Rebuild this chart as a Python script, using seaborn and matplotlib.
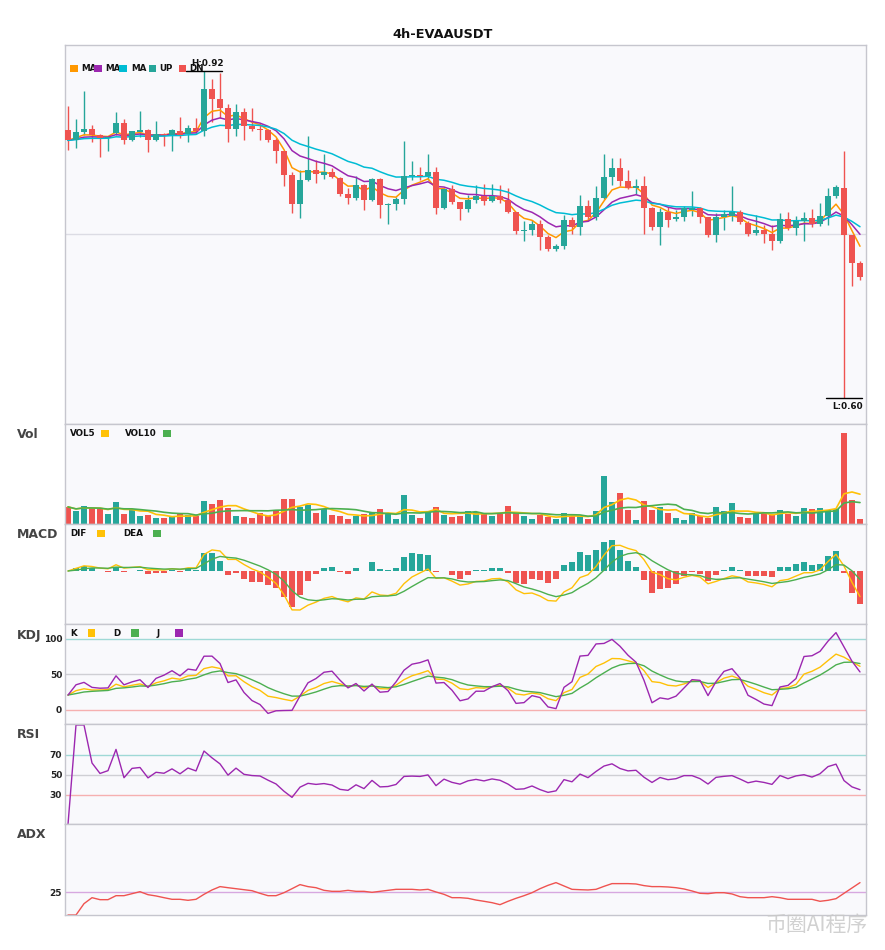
import numpy as np
import pandas as pd
import matplotlib
matplotlib.use("Agg")
import matplotlib.pyplot as plt
import seaborn as sns
from matplotlib.patches import Rectangle

# ---------------- data ----------------
title = "4h-EVAAUSDT"
start_time = "2024-08-06 00:00"

open_ = [0.862, 0.852, 0.860, 0.863, 0.857, 0.854, 0.859, 0.869, 0.852, 0.860,
         0.862, 0.852, 0.858, 0.857, 0.861, 0.858, 0.864, 0.861, 0.902, 0.893,
         0.884, 0.863, 0.880, 0.866, 0.863, 0.862, 0.852, 0.842, 0.818, 0.790,
         0.813, 0.823, 0.818, 0.821, 0.815, 0.800, 0.796, 0.808, 0.794, 0.814,
         0.789, 0.790, 0.795, 0.817, 0.818, 0.817, 0.821, 0.786, 0.804, 0.792,
         0.785, 0.794, 0.798, 0.793, 0.798, 0.794, 0.782, 0.763, 0.764, 0.770,
         0.757, 0.746, 0.749, 0.774, 0.767, 0.788, 0.777, 0.796, 0.816, 0.825,
         0.812, 0.805, 0.807, 0.786, 0.767, 0.782, 0.775, 0.777, 0.784, 0.786,
         0.777, 0.759, 0.777, 0.778, 0.782, 0.771, 0.761, 0.764, 0.760, 0.754,
         0.775, 0.766, 0.773, 0.776, 0.770, 0.778, 0.798, 0.805, 0.759, 0.732]
high = [0.886, 0.873, 0.900, 0.867, 0.858, 0.856, 0.880, 0.873, 0.861, 0.881,
        0.863, 0.871, 0.859, 0.863, 0.875, 0.867, 0.874, 0.920, 0.912, 0.918,
        0.888, 0.888, 0.884, 0.884, 0.869, 0.863, 0.854, 0.842, 0.821, 0.823,
        0.856, 0.833, 0.839, 0.825, 0.816, 0.805, 0.817, 0.809, 0.815, 0.815,
        0.791, 0.797, 0.851, 0.832, 0.826, 0.839, 0.826, 0.805, 0.808, 0.792,
        0.799, 0.808, 0.809, 0.809, 0.808, 0.805, 0.782, 0.773, 0.774, 0.774,
        0.759, 0.751, 0.779, 0.777, 0.799, 0.794, 0.807, 0.839, 0.835, 0.835,
        0.823, 0.814, 0.817, 0.787, 0.786, 0.787, 0.784, 0.788, 0.802, 0.787,
        0.777, 0.781, 0.784, 0.807, 0.784, 0.773, 0.779, 0.769, 0.769, 0.781,
        0.782, 0.778, 0.782, 0.785, 0.791, 0.805, 0.808, 0.842, 0.759, 0.734]
low = [0.843, 0.845, 0.857, 0.850, 0.836, 0.842, 0.857, 0.848, 0.851, 0.855,
       0.841, 0.851, 0.847, 0.842, 0.854, 0.850, 0.858, 0.856, 0.870, 0.874,
       0.850, 0.856, 0.852, 0.861, 0.852, 0.850, 0.830, 0.807, 0.781, 0.776,
       0.812, 0.810, 0.814, 0.815, 0.798, 0.790, 0.794, 0.784, 0.793, 0.776,
       0.770, 0.784, 0.790, 0.813, 0.813, 0.813, 0.780, 0.785, 0.790, 0.774,
       0.782, 0.791, 0.789, 0.792, 0.791, 0.781, 0.760, 0.754, 0.759, 0.745,
       0.744, 0.744, 0.746, 0.760, 0.759, 0.773, 0.774, 0.795, 0.808, 0.807,
       0.804, 0.800, 0.760, 0.764, 0.750, 0.767, 0.773, 0.773, 0.778, 0.771,
       0.757, 0.753, 0.764, 0.773, 0.770, 0.758, 0.759, 0.752, 0.745, 0.752,
       0.764, 0.759, 0.754, 0.767, 0.768, 0.769, 0.796, 0.600, 0.709, 0.715]
close = [0.852, 0.860, 0.863, 0.857, 0.854, 0.855, 0.869, 0.852, 0.861, 0.862,
         0.852, 0.858, 0.857, 0.862, 0.857, 0.864, 0.861, 0.902, 0.893, 0.884,
         0.863, 0.880, 0.866, 0.863, 0.862, 0.852, 0.842, 0.818, 0.790, 0.813,
         0.823, 0.819, 0.821, 0.816, 0.800, 0.796, 0.808, 0.794, 0.814, 0.789,
         0.790, 0.795, 0.817, 0.818, 0.817, 0.821, 0.786, 0.804, 0.792, 0.785,
         0.794, 0.798, 0.793, 0.798, 0.794, 0.782, 0.763, 0.764, 0.770, 0.757,
         0.746, 0.749, 0.774, 0.767, 0.788, 0.777, 0.796, 0.816, 0.825, 0.812,
         0.805, 0.807, 0.786, 0.767, 0.782, 0.774, 0.777, 0.786, 0.786, 0.777,
         0.759, 0.777, 0.780, 0.782, 0.772, 0.760, 0.764, 0.760, 0.754, 0.775,
         0.766, 0.773, 0.776, 0.770, 0.778, 0.798, 0.806, 0.759, 0.732, 0.718]
volume = [173, 133, 183, 160, 153, 103, 223, 103, 150, 83,
          93, 63, 63, 77, 110, 93, 83, 233, 203, 243,
          163, 83, 73, 63, 110, 83, 143, 253, 253, 173,
          193, 113, 150, 93, 83, 53, 83, 103, 113, 153,
          113, 53, 293, 93, 63, 123, 173, 93, 73, 83,
          133, 123, 113, 83, 103, 183, 113, 83, 53, 93,
          73, 53, 113, 83, 83, 53, 133, 483, 223, 313,
          143, 43, 233, 143, 173, 113, 63, 43, 113, 83,
          63, 173, 133, 213, 73, 63, 113, 113, 103, 143,
          103, 83, 163, 153, 163, 143, 153, 903, 243, 53]
adx = [0, 0, 12.5, 19.1, 16.9, 16.9, 21.3, 21.3, 23.5, 25.7,
       22.4, 21, 19.1, 17.3, 17.3, 16.2, 17.3, 22.8, 27.6, 31.3,
       30.1, 29, 27.9, 26.8, 23.9, 21.3, 21.3, 24.6, 29, 33.5,
       31.3, 30.1, 27.2, 26.1, 26.1, 27.2, 26.1, 26.1, 25, 26.1,
       27.2, 28.3, 28.3, 28.3, 27.6, 28.3, 25.4, 22.8, 19.1, 19.1,
       18.4, 16.5, 15.1, 13.6, 11.4, 15.1, 18.4, 21.3, 24.6, 29,
       32.7, 35.7, 32, 28.3, 27.9, 27.6, 28.3, 31.6, 34.6, 34.6,
       34.6, 34.2, 32.4, 31.3, 31.3, 30.9, 30.1, 28.7, 26.5, 23.9,
       23.5, 24.6, 24.6, 23.2, 20.2, 19.1, 19.1, 19.1, 20.2, 19.1,
       17.3, 17.3, 17.3, 17.3, 15.1, 16.2, 18, 23.9, 29.8, 35.7]
price_grid = [0.76]
kdj_levels = [100, 50, 0]
rsi_levels = [70, 50, 30]
adx_levels = [25]
macd_periods = (6, 13, 5)

# ---------------- styling ----------------
UP, DN = "#26A69A", "#EF5350"
MA_COLORS = ["#FF9800", "#9C27B0", "#00BCD4"]
GOLD, GREEN, PURPLE = "#FFC107", "#4CAF50", "#9C27B0"
BG = "#F9F9FC"
SPINE = "#C6C6CE"

sns.set_theme(style="white")
plt.rcParams["font.family"] = ["DejaVu Sans"]

df = pd.DataFrame({"open": open_, "high": high, "low": low, "close": close,
                   "volume": volume, "adx": adx})
df["time"] = pd.date_range(start_time, periods=len(df), freq="4h")
n = len(df)
x = np.arange(n)
c = df["close"]

# indicators derived from the read closes / volumes
for p in (5, 10, 20):
    df[f"ma{p}"] = c.ewm(span=p, adjust=False).mean()
df["vol5"] = df["volume"].rolling(5, min_periods=1).mean()
df["vol10"] = df["volume"].rolling(10, min_periods=1).mean()
fa, sl, sg = macd_periods
dif = c.ewm(span=fa, adjust=False).mean() - c.ewm(span=sl, adjust=False).mean()
dea = dif.ewm(span=sg, adjust=False).mean()
hist = dif - dea
lown = df["low"].rolling(9, min_periods=1).min()
highn = df["high"].rolling(9, min_periods=1).max()
rsv = (c - lown) / (highn - lown) * 100
K = rsv.ewm(com=2, adjust=False).mean()
D = K.ewm(com=2, adjust=False).mean()
J = 3 * K - 2 * D
delta = c.diff()
ag = delta.clip(lower=0).ewm(alpha=1 / 14, adjust=True).mean()
al = (-delta).clip(lower=0).ewm(alpha=1 / 14, adjust=True).mean()
rsi = (100 * ag / (ag + al)).fillna(0)

up = (df["close"] >= df["open"]).values
colors = np.where(up, UP, DN)

# ---------------- figure ----------------
W, H = 885, 950
fig = plt.figure(figsize=(W / 100, H / 100), dpi=100)
fig.patch.set_facecolor("white")


def rect(top, bottom):
    return [65 / W, 1 - bottom / H, (866 - 65) / W, (bottom - top) / H]


ax_main = fig.add_axes(rect(45, 424.3))
ax_vol = fig.add_axes(rect(424.3, 524.3), sharex=ax_main)
ax_macd = fig.add_axes(rect(524.3, 624.3), sharex=ax_main)
ax_kdj = fig.add_axes(rect(624.3, 724.3), sharex=ax_main)
ax_rsi = fig.add_axes(rect(724.3, 824.3), sharex=ax_main)
ax_adx = fig.add_axes(rect(824.3, 915), sharex=ax_main)
axes = [ax_main, ax_vol, ax_macd, ax_kdj, ax_rsi, ax_adx]

for ax in axes:
    ax.set_facecolor(BG)
    for s in ax.spines.values():
        s.set_color(SPINE)
        s.set_linewidth(1)
    ax.tick_params(axis="both", length=0)
    plt.setp(ax.get_xticklabels(), visible=False)


def line(ax, y, color, lw=1.0):
    sns.lineplot(x=x, y=np.asarray(y, dtype=float), ax=ax, color=color,
                 linewidth=lw, legend=False, estimator=None, sort=False)
    ax.set_xlabel("")
    ax.set_ylabel("")


# main candles
for g in price_grid:
    ax_main.axhline(g, color="#DCDCE4", lw=1, zorder=0)
ax_main.vlines(x, df["low"], df["high"], colors=colors, lw=1, zorder=2)
body_bottom = np.minimum(df["open"], df["close"])
body_h = np.maximum(np.abs(df["close"] - df["open"]), 0.0012)
ax_main.bar(x, body_h, bottom=body_bottom, width=0.74, color=colors,
            linewidth=0, zorder=3)
for p, col in zip((5, 10, 20), MA_COLORS):
    line(ax_main, df[f"ma{p}"], col, 1.1)
ax_main.set_ylim(0.5741, 0.9454)
ax_main.set_yticks([])

ih = int(np.argmax(df["high"].values))
il = int(np.argmin(df["low"].values))
hv, lv = df["high"].iloc[ih], df["low"].iloc[il]
ax_main.plot([ih - 2.2, ih + 2.2], [hv, hv], color="black", lw=1, zorder=5)
ax_main.text(ih + 0.5, hv + 0.0025, f"H:{hv:.2f}", ha="center", va="bottom",
             fontsize=6.3, fontweight="bold", color="#111", zorder=6)
ax_main.plot([il - 2.25, il + 2.25], [lv, lv], color="black", lw=1, zorder=5)
ax_main.text(il + 0.45, lv - 0.004, f"L:{lv:.2f}", ha="center", va="top",
             fontsize=6.3, fontweight="bold", color="#111", zorder=6)

# volume
ax_vol.bar(x, df["volume"], width=0.74, color=colors, linewidth=0, zorder=2)
line(ax_vol, df["vol5"], GOLD, 1.2)
line(ax_vol, df["vol10"], GREEN, 1.2)
ax_vol.set_ylim(0, 993)
ax_vol.set_yticks([])

# MACD: histogram on the panel axis, DIF/DEA on an overlaid twin with own scale
ZERO_FRAC = 0.467  # zero line position from the top of the panel
ax_macd.bar(x, hist, width=0.74, color=np.where(hist >= 0, UP, DN),
            linewidth=0, zorder=2)
rh = max(-hist.min() / 0.37, hist.max() / 0.31)
ax_macd.set_ylim(ZERO_FRAC * rh - rh, ZERO_FRAC * rh)
ax_macd.set_yticks([])
ax_ml = ax_macd.twinx()
ax_ml.patch.set_visible(False)
for s in ax_ml.spines.values():
    s.set_visible(False)
line(ax_ml, dif, GOLD, 1.0)
line(ax_ml, dea, GREEN, 1.0)
lmin = min(dif.min(), dea.min())
lmax = max(dif.max(), dea.max())
rl = max(-lmin / 0.39, lmax / 0.26)
ax_ml.set_ylim(ZERO_FRAC * rl - rl, ZERO_FRAC * rl)
ax_ml.set_yticks([])
ax_ml.tick_params(length=0)

# KDJ
for lvl, col in zip(kdj_levels, ["#9FD9D6", "#CFCFD4", "#F6B0B0"]):
    ax_kdj.axhline(lvl, color=col, lw=1, zorder=0)
line(ax_kdj, K, GOLD, 1.0)
line(ax_kdj, D, GREEN, 1.0)
line(ax_kdj, J, PURPLE, 1.0)
ax_kdj.set_ylim(-20.3, 120.7)
ax_kdj.set_yticks(kdj_levels)
ax_kdj.set_yticklabels([str(v) for v in kdj_levels])

# RSI
for lvl, col in zip(rsi_levels, ["#9FD9D6", "#CFCFD4", "#F6B0B0"]):
    ax_rsi.axhline(lvl, color=col, lw=1, zorder=0)
line(ax_rsi, rsi, PURPLE, 1.0)
ax_rsi.set_ylim(0, 100.7)
ax_rsi.set_yticks(rsi_levels)
ax_rsi.set_yticklabels([str(v) for v in rsi_levels])

# ADX
for lvl in adx_levels:
    ax_adx.axhline(lvl, color="#D7A8E0", lw=1, zorder=0)
line(ax_adx, df["adx"], DN, 1.0)
ax_adx.set_ylim(0, 100)
ax_adx.set_yticks(adx_levels)
ax_adx.set_yticklabels([str(v) for v in adx_levels])

for ax in (ax_kdj, ax_rsi, ax_adx):
    ax.tick_params(axis="y", length=0, pad=2, labelsize=6.5)
    for t in ax.get_yticklabels():
        t.set_fontweight("bold")
        t.set_color("#222222")

tick_idx = [i for i, t in enumerate(df["time"]) if t.hour == 0 and (t.day % 2 == 0)]
ax_adx.set_xticks(tick_idx)
ax_adx.set_xticklabels([df["time"].iloc[i].strftime("%m/%d") for i in tick_idx])
plt.setp(ax_adx.get_xticklabels(), visible=True)
ax_adx.tick_params(axis="x", length=0, pad=3, labelsize=6.5, labelcolor="#666666")
for t in ax_adx.get_xticklabels():
    t.set_fontweight("bold")
ax_main.set_xlim(-0.375, 99.75)

# ---------------- texts & legends ----------------
fig.text(443 / W, 1 - 34 / H, title, ha="center", va="center",
         fontsize=9.3, fontweight="bold", color="#111111")

for lab, yc in [("Vol", 434.7), ("MACD", 534.7), ("KDJ", 635), ("RSI", 734.7), ("ADX", 834.7)]:
    fig.text(17 / W, 1 - yc / H, lab, ha="left", va="center", fontsize=9,
             fontweight="bold", color="#444444")

zc = [20]


def legend_item(sq_x, yc, color, label, tx):
    fig.add_artist(Rectangle((sq_x / W, 1 - (yc + 3.7) / H), 7.5 / W, 7.5 / H,
                             transform=fig.transFigure, facecolor=color,
                             edgecolor="none", zorder=zc[0]))
    fig.text(tx / W, 1 - yc / H, label, ha="left", va="center", fontsize=6.3,
             fontweight="bold", color="#111111", zorder=zc[0] + 1)
    zc[0] += 2


# main legend (labels partly hidden by the next swatch, as in the original)
main_leg = [(70, MA_COLORS[0], "MA", 81), (94, MA_COLORS[1], "MA", 105),
            (119, MA_COLORS[2], "MA", 131.5), (148.5, UP, "UP", 159.5),
            (178.5, DN, "DN", 189)]
for sx, col, lab, tx in main_leg:
    legend_item(sx, 68.7, col, lab, tx)

for tx, lab, sx, col, yc in [(70, "VOL5", 101, GOLD, 433.7), (125, "VOL10", 163, GREEN, 433.7),
                             (70, "DIF", 97, GOLD, 533.7), (123.5, "DEA", 153, GREEN, 533.7),
                             (70, "K", 87.5, GOLD, 633), (113.5, "D", 131, GREEN, 633),
                             (157, "J", 175, PURPLE, 633)]:
    legend_item(sx, yc, col, lab, tx)

fig.text(817 / W, 1 - 925 / H, "币圈AI程序", ha="center", va="center",
         fontsize=15, color="#C9C9C9", alpha=0.85,
         family=["Noto Sans CJK SC", "DejaVu Sans"])

fig.savefig("out.png", dpi=100, facecolor="white")
